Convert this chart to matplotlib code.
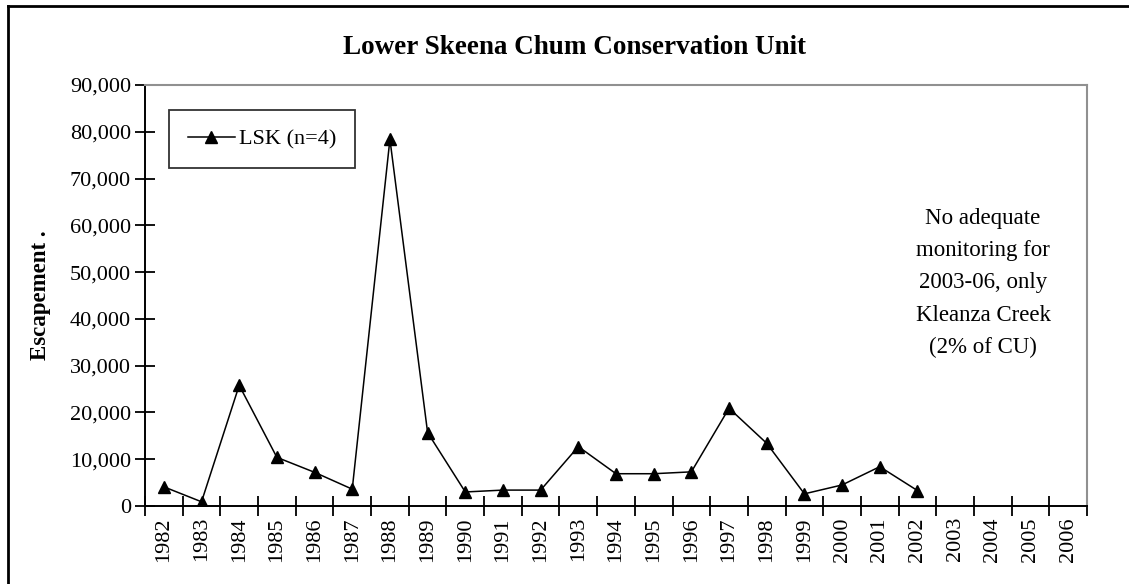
import matplotlib
matplotlib.use("Agg")
import matplotlib.pyplot as plt
from matplotlib.lines import Line2D
from matplotlib.ticker import FuncFormatter

plt.rcParams["font.family"] = ["Liberation Serif", "DejaVu Serif"]

years = list(range(1982, 2007))
# escapement estimates, no data for 2003-2006
lsk = [4100, 900, 25800, 10400, 7200, 3600, 78400, 15700, 3000, 3400, 3400,
       12700, 6900, 6900, 7300, 20900, 13400, 2600, 4500, 8400, 3300]

fig = plt.figure(figsize=(11.29, 5.84), dpi=100)
ax = fig.add_axes([145 / 1129, 78 / 584, 942 / 1129, 421 / 584])

xs = list(range(len(lsk)))
ax.plot(xs, lsk, color="black", lw=1.1, marker="^", markersize=8.5,
        markerfacecolor="black", markeredgecolor="black", label="LSK (n=4)")

ax.set_xlim(-0.5, len(years) - 0.5)
ax.set_ylim(0, 90000)
ax.set_yticks(range(0, 90001, 10000))
ax.yaxis.set_major_formatter(FuncFormatter(lambda v, p: f"{int(v):,}"))

# category ticks sit between years, labels at the centres
ax.set_xticks([i - 0.5 for i in range(len(years) + 1)])
ax.set_xticklabels([])
ax.set_xticks(range(len(years)), minor=True)
ax.set_xticklabels([str(y) for y in years], minor=True, rotation=90, fontsize=16)
ax.tick_params(axis="x", which="major", direction="inout", length=14, width=1.3)
ax.tick_params(axis="x", which="minor", length=0, pad=8)
ax.tick_params(axis="y", direction="inout", length=14, width=1.3, labelsize=16, pad=3)

for s in ("left", "bottom"):
    ax.spines[s].set_color("black")
    ax.spines[s].set_linewidth(1.4)
for s in ("top", "right"):
    ax.spines[s].set_color("#909090")
    ax.spines[s].set_linewidth(1.5)

ax.set_ylabel("Escapement .", fontsize=16.5, fontweight="bold")
ax.yaxis.set_label_coords(-0.1, 0.5)

fig.text(574 / 1129, 1 - 48 / 584, "Lower Skeena Chum Conservation Unit",
         ha="center", va="center", fontsize=19.5, fontweight="bold")

ax.text(983 / 1129, 1 - 283 / 584,
        "No adequate\nmonitoring for\n2003-06, only\nKleanza Creek\n(2% of CU)",
        transform=fig.transFigure, ha="center", va="center", fontsize=16.5,
        linespacing=1.7)

leg = ax.legend(loc="upper left", bbox_to_anchor=(24 / 942, 1 - 25 / 421),
                fontsize=16, frameon=True, fancybox=False, borderpad=0.85,
                handlelength=2.1, handletextpad=0.2, borderaxespad=0)
leg.get_frame().set_edgecolor("black")
leg.get_frame().set_linewidth(1.3)

# outer chart frame
fig.add_artist(Line2D([8 / 1129, 8 / 1129], [0, 1 - 6 / 584], color="black", lw=2))
fig.add_artist(Line2D([8 / 1129, 1], [1 - 6 / 584, 1 - 6 / 584], color="black", lw=2))

fig.savefig("out.png", dpi=100)
